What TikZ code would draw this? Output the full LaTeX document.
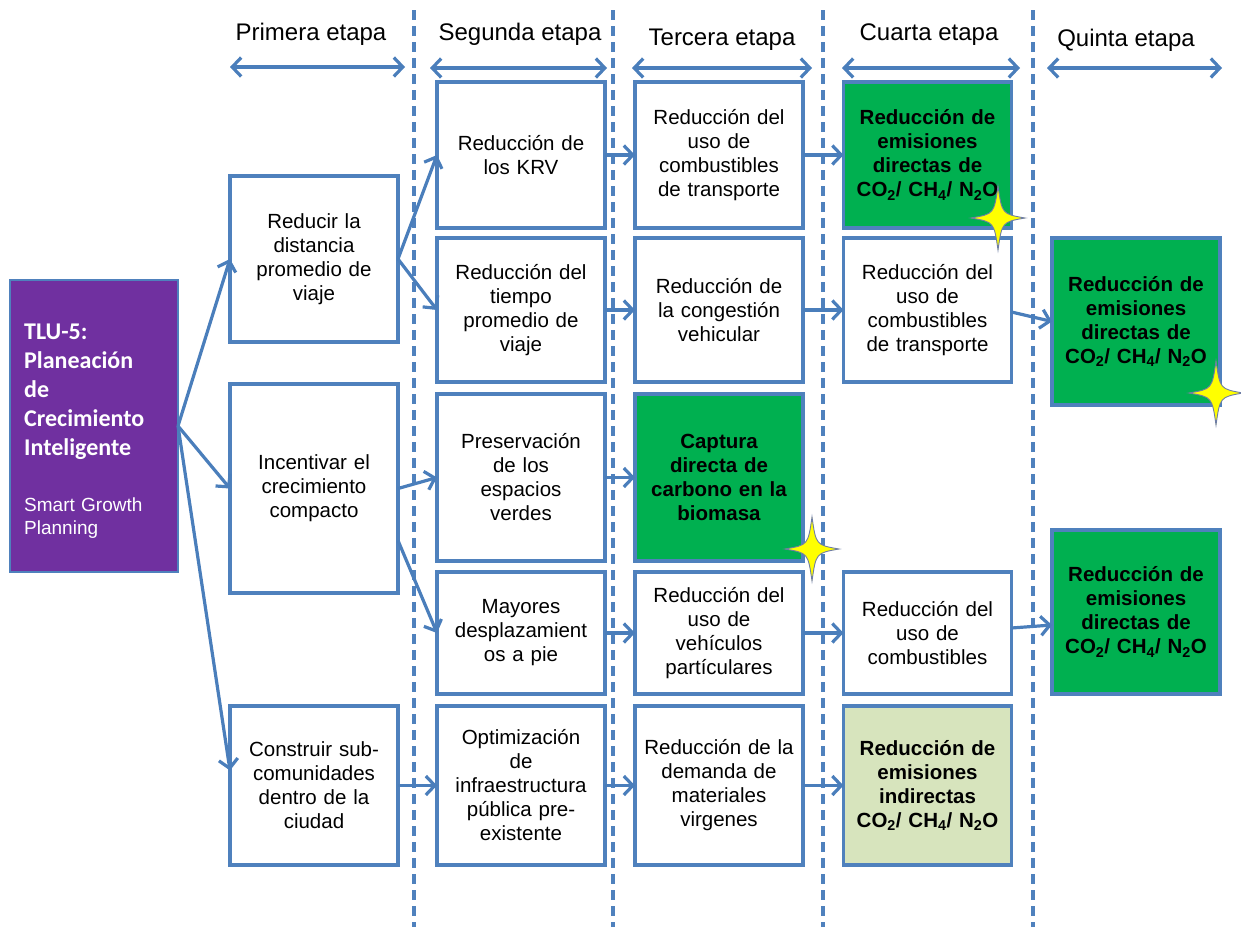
\documentclass[tikz,border=0pt]{standalone}
\usepackage{fontspec}
\setmainfont{Liberation Sans}
\newfontfamily\calfont{Carlito}
\usetikzlibrary{arrows.meta,calc}
\definecolor{boxblue}{RGB}{79,129,189}
\definecolor{arrblue}{RGB}{74,126,187}
\definecolor{grn}{RGB}{0,176,80}
\definecolor{lgrn}{RGB}{215,228,189}
\definecolor{purp}{RGB}{112,48,160}
\definecolor{staryel}{RGB}{255,255,0}
\definecolor{staredge}{RGB}{110,125,165}
\begin{document}
\begin{tikzpicture}[x=1pt,y=-1pt,
  bx/.style={draw=boxblue, line width=3.4pt, fill=white, inner sep=0pt, outer sep=0pt,
    align=center, text width=160pt, minimum width=168pt, font=\fontsize{20.5}{24}\selectfont},
  gbx/.style={bx, fill=grn, font=\fontsize{20.5}{24}\selectfont\bfseries},
  lgbx/.style={bx, fill=lgrn, font=\fontsize{20.5}{24}\selectfont\bfseries},
  pbx/.style={draw=boxblue, line width=1.5pt, fill=purp, inner sep=0pt, outer sep=0pt,
    minimum width=168pt, minimum height=292pt},
  arr/.style={draw=arrblue, line width=3.2pt, -{Straight Barb[length=9pt,width=19pt]}},
  harr/.style={draw=arrblue, line width=3.2pt,
    {Straight Barb[length=9pt,width=19pt]}-{Straight Barb[length=9pt,width=19pt]}},
  hdr/.style={anchor=base, inner sep=0pt, font=\fontsize{24}{28}\selectfont},
  dline/.style={draw=boxblue, line width=3.2pt, dash pattern=on 10pt off 6pt},
  sparkle/.pic={
    \filldraw[fill=staryel, draw=staredge, line width=0.9pt]
      (-27,0) .. controls (-4,-4) .. (0,-32) .. controls (4,-4) .. (27,0)
      .. controls (4,4) .. (0,32) .. controls (-4,4) .. cycle;}
]
\useasboundingbox (0,0) rectangle (1241,927);

% stage separators
\foreach \xx in {414,613,823,1033} \draw[dline] (\xx,10) -- (\xx,927);

% headers
\node[hdr] (t1) at (311,40) {Primera etapa};
\node[hdr] (t2) at (520,40) {Segunda etapa};
\node[hdr] (t3) at (722,45) {Tercera etapa};
\node[hdr] (t4) at (929,40) {Cuarta etapa};
\node[hdr] (t5) at (1126,46) {Quinta etapa};
\coordinate (h1a) at (230,67);  \coordinate (h1b) at (405,67);
\coordinate (h2a) at (430,68);  \coordinate (h2b) at (607,68);
\coordinate (h3a) at (632,68);  \coordinate (h3b) at (812,68);
\coordinate (h4a) at (842,68);  \coordinate (h4b) at (1020,68);
\coordinate (h5a) at (1047,68); \coordinate (h5b) at (1222,68);
\draw[harr] (h1a) -- (h1b);
\draw[harr] (h2a) -- (h2b);
\draw[harr] (h3a) -- (h3b);
\draw[harr] (h4a) -- (h4b);
\draw[harr] (h5a) -- (h5b);

% purple source box
\node[pbx] (P) at (94,426) {};
\node[anchor=base west, inner sep=0pt, align=left, text width=150pt, text=white,
  font=\calfont\bfseries\fontsize{24}{29}\selectfont] (Pt) at (24,339)
  {TLU-5:\\Planeación\\de\\Crecimiento\\Inteligente};
\node[anchor=base west, inner sep=0pt, align=left, text width=150pt, text=white,
  font=\fontsize{19}{23}\selectfont] (Ps) at (24,511)
  {Smart Growth\\Planning};

% column 1
\node[bx, minimum height=166pt] (A) at (314,259) {Reducir la\\distancia\\promedio de\\viaje};
\node[bx, minimum height=209pt] (B) at (314,488.5) {Incentivar el\\crecimiento\\compacto};
\node[bx, minimum height=159pt] (C) at (314,785.5) {Construir sub-\\comunidades\\dentro de la\\ciudad};

% column 2
\node[bx, minimum height=146pt] (b21) at (521,155) {Reducción de\\los KRV};
\node[bx, minimum height=144pt] (b22) at (521,310) {Reducción del\\tiempo\\promedio de\\viaje};
\node[bx, minimum height=167pt] (b23) at (521,477.5) {Preservación\\de los\\espacios\\verdes};
\node[bx, minimum height=122pt] (b24) at (521,633) {Mayores\\desplazamient\\os a pie};
\node[bx, minimum height=159pt] (b25) at (521,785.5) {Optimización\\de\\infraestructura\\pública pre-\\existente};

% column 3
\node[bx, minimum height=146pt] (b31) at (719,155) {Reducción del\\uso de\\combustibles\\de transporte};
\node[bx, minimum height=144pt] (b32) at (719,310) {Reducción de\\la congestión\\vehicular};
\node[gbx, minimum height=167pt] (b33) at (719,477.5) {Captura\\directa de\\carbono en la\\biomasa};
\node[bx, minimum height=122pt] (b34) at (719,633) {Reducción del\\uso de\\vehículos\\partículares};
\node[bx, minimum height=159pt] (b35) at (719,785.5) {Reducción de la\\demanda de\\materiales\\virgenes};

% column 4
\node[gbx, minimum height=146pt] (b41) at (927.5,155) {Reducción de\\emisiones\\directas de\\CO\textsubscript{2}/ CH\textsubscript{4}/ N\textsubscript{2}O};
\node[bx, minimum height=144pt] (b42) at (927.5,310) {Reducción del\\uso de\\combustibles\\de transporte};
\node[bx, minimum height=122pt] (b44) at (927.5,633) {Reducción del\\uso de\\combustibles};
\node[lgbx, minimum height=159pt] (b45) at (927.5,785.5) {Reducción de\\emisiones\\indirectas\\CO\textsubscript{2}/ CH\textsubscript{4}/ N\textsubscript{2}O};

% column 5
\node[gbx, minimum height=167pt] (b52) at (1136,321.5) {Reducción de\\emisiones\\directas de\\CO\textsubscript{2}/ CH\textsubscript{4}/ N\textsubscript{2}O};
\node[gbx, minimum height=164pt] (b54) at (1136,612) {Reducción de\\emisiones\\directas de\\CO\textsubscript{2}/ CH\textsubscript{4}/ N\textsubscript{2}O};

% connectors
\draw[arr] (P.east) -- (A.west);
\draw[arr] (P.east) -- (B.west);
\draw[arr] (P.east) -- ([yshift=15pt]C.west);
\draw[arr] (A.east) -- (b21.west);
\draw[arr] (A.east) -- (b22.west);
\draw[arr] (B.east) -- (b23.west);
\draw[arr] ([yshift=-52pt]B.east) -- (b24.west);
\draw[arr] (C.east) -- (b25.west);
\draw[arr] (b21.east) -- (b31.west);
\draw[arr] (b22.east) -- (b32.west);
\draw[arr] (b23.east) -- (b33.west);
\draw[arr] (b24.east) -- (b34.west);
\draw[arr] (b25.east) -- (b35.west);
\draw[arr] (b31.east) -- (b41.west);
\draw[arr] (b32.east) -- (b42.west);
\draw[arr] (b34.east) -- (b44.west);
\draw[arr] (b35.east) -- (b45.west);
\draw[arr] ([yshift=-2pt]b42.east) -- (b52.west);
\draw[arr] ([yshift=5pt]b44.east) -- ([yshift=-13pt]b54.west);

% sparkles
\pic at (998,218) {sparkle};
\pic at (812,549) {sparkle};
\pic at (1216,393) {sparkle};
\end{tikzpicture}
\end{document}
